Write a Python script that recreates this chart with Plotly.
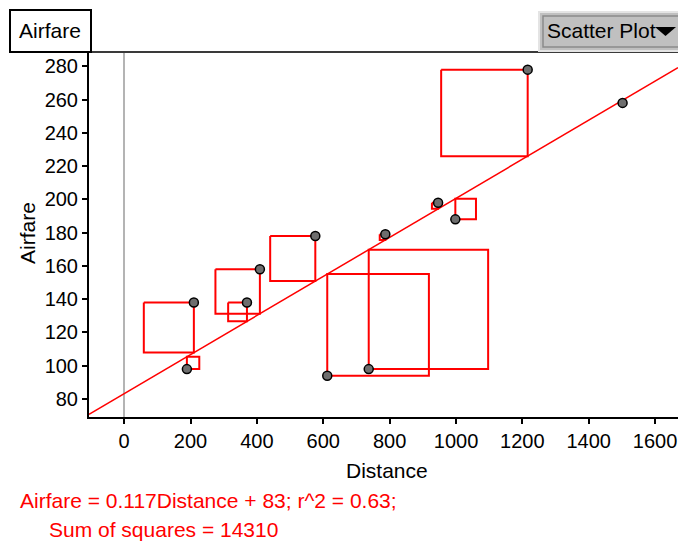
import numpy as np
import plotly.graph_objects as go

# ---- data (Baltimore flights: distance in miles, airfare in dollars) ----
distance = [576, 370, 612, 1216, 409, 1502, 946, 998, 189, 787, 210, 737]
airfare = [178, 138, 94, 278, 158, 258, 198, 188, 98, 179, 138, 98]

x_ticks = [0, 200, 400, 600, 800, 1000, 1200, 1400, 1600]
y_ticks = [80, 100, 120, 140, 160, 180, 200, 220, 240, 260, 280]

equation_text = "Airfare = 0.117Distance + 83; r^2 = 0.63;"
ss_text = "Sum of squares = 14310"

# ---- layout geometry (page shows the figure from x=8..678, y=8..541) ----
OFF = 8
W, H = 670, 533
L, R, T = 89 - OFF, 0, 52 - OFF
B = (H + OFF) - 417
X_RANGE = [-106, 1669]
Y_RANGE = [69.2, 288.6]
PW, PH = W - L - R, H - T - B


def px(xp):
    """window pixel x -> paper x"""
    return (xp - OFF - L) / PW


def py(yp):
    """window pixel y -> paper y"""
    return (H - B - (yp - OFF)) / PH


# ---- fit and residual squares ----
slope, intercept = np.polyfit(distance, airfare, 1)
xpx = PW / (X_RANGE[1] - X_RANGE[0])
ypx = PH / (Y_RANGE[1] - Y_RANGE[0])
ratio = ypx / xpx

sq_x, sq_y = [], []
for xv, yv in zip(distance, airfare):
    yhat = intercept + slope * xv
    r = yv - yhat
    s = abs(r) * ratio
    if r > 0:
        x0, x1 = xv - s, xv
    else:
        x0, x1 = xv, xv + s
    sq_x += [x0, x1, x1, x0, x0, None]
    sq_y += [yv, yv, yhat, yhat, yv, None]

line_x = list(X_RANGE)
line_y = [intercept + slope * v for v in line_x]

fig = go.Figure()
fig.add_trace(go.Scatter(x=line_x, y=line_y, mode="lines",
                         line=dict(color="#ff0000", width=1.5),
                         hoverinfo="skip", showlegend=False))
fig.add_trace(go.Scatter(x=sq_x, y=sq_y, mode="lines",
                         line=dict(color="#ff0000", width=2),
                         hoverinfo="skip", showlegend=False))
fig.add_trace(go.Scatter(x=distance, y=airfare, mode="markers",
                         marker=dict(size=9, color="#6e6e6e",
                                     line=dict(color="#000000", width=1.5)),
                         showlegend=False))

FONT = "Liberation Sans, Arial, sans-serif"

shapes = [
    # header line
    dict(type="line", xref="paper", yref="paper", x0=px(10), x1=px(700),
         y0=py(52), y1=py(52), line=dict(color="#3a3a3a", width=2)),
    # attribute box
    dict(type="rect", xref="paper", yref="paper", x0=px(10), x1=px(91),
         y0=py(52), y1=py(10), line=dict(color="#000000", width=2),
         fillcolor="rgba(0,0,0,0)"),
    # dropdown outer
    dict(type="rect", xref="paper", yref="paper", x0=px(539), x1=px(700),
         y0=py(51), y1=py(12), line=dict(color="#e4e4e4", width=2),
         fillcolor="#c0c0c0"),
    # dropdown inner
    dict(type="rect", xref="paper", yref="paper", x0=px(543), x1=px(700),
         y0=py(47), y1=py(16), line=dict(color="#8a8a8a", width=1.5),
         fillcolor="#c0c0c0"),
    # dropdown arrow
    dict(type="path", xref="paper", yref="paper",
         path=f"M {px(655)} {py(27)} L {px(676)} {py(27)} L {px(665.5)} {py(36)} Z",
         fillcolor="#000000", line=dict(color="#000000", width=0)),
]

annotations = [
    dict(text="Airfare", xref="paper", yref="paper", x=px(50), y=py(31),
         xanchor="center", yanchor="middle", showarrow=False,
         font=dict(family=FONT, size=21, color="#000000")),
    dict(text="Scatter Plot", xref="paper", yref="paper", x=px(545), y=py(30),
         xanchor="left", yanchor="middle", showarrow=False,
         font=dict(family=FONT, size=21, color="#000000")),
    dict(text="Distance", xref="paper", yref="paper", x=px(387), y=py(470),
         xanchor="center", yanchor="middle", showarrow=False,
         font=dict(family=FONT, size=21, color="#000000")),
    dict(text="Airfare", xref="paper", yref="paper", x=px(27), y=py(233),
         xanchor="center", yanchor="middle", showarrow=False, textangle=-90,
         font=dict(family=FONT, size=21, color="#000000")),
    dict(text=equation_text, xref="paper", yref="paper", x=px(18), y=py(500),
         xanchor="left", yanchor="middle", showarrow=False,
         font=dict(family=FONT, size=21, color="#ff0000")),
    dict(text=ss_text, xref="paper", yref="paper", x=px(47), y=py(529),
         xanchor="left", yanchor="middle", showarrow=False,
         font=dict(family=FONT, size=21, color="#ff0000")),
]

fig.update_layout(
    width=W, height=H,
    margin=dict(l=L, r=R, t=T, b=B, pad=0),
    paper_bgcolor="#ffffff", plot_bgcolor="#ffffff",
    shapes=shapes, annotations=annotations,
    font=dict(family=FONT, size=20, color="#000000"),
    xaxis=dict(range=X_RANGE, tickvals=x_ticks, ticktext=[str(v) for v in x_ticks],
               showgrid=False, zeroline=True, zerolinecolor="#b4b4b4",
               zerolinewidth=1.5, showline=True, linecolor="#000000", linewidth=2,
               ticks="outside", ticklen=5, tickwidth=1.5, tickcolor="#000000",
               tickfont=dict(family=FONT, size=20, color="#000000")),
    yaxis=dict(range=Y_RANGE, tickvals=y_ticks, ticktext=[str(v) for v in y_ticks],
               showgrid=False, zeroline=False, showline=True, linecolor="#000000",
               linewidth=2, ticks="outside", ticklen=5, tickwidth=1.5,
               tickcolor="#000000",
               tickfont=dict(family=FONT, size=20, color="#000000")),
    hovermode=False,
)

fig.write_html("out.html")
